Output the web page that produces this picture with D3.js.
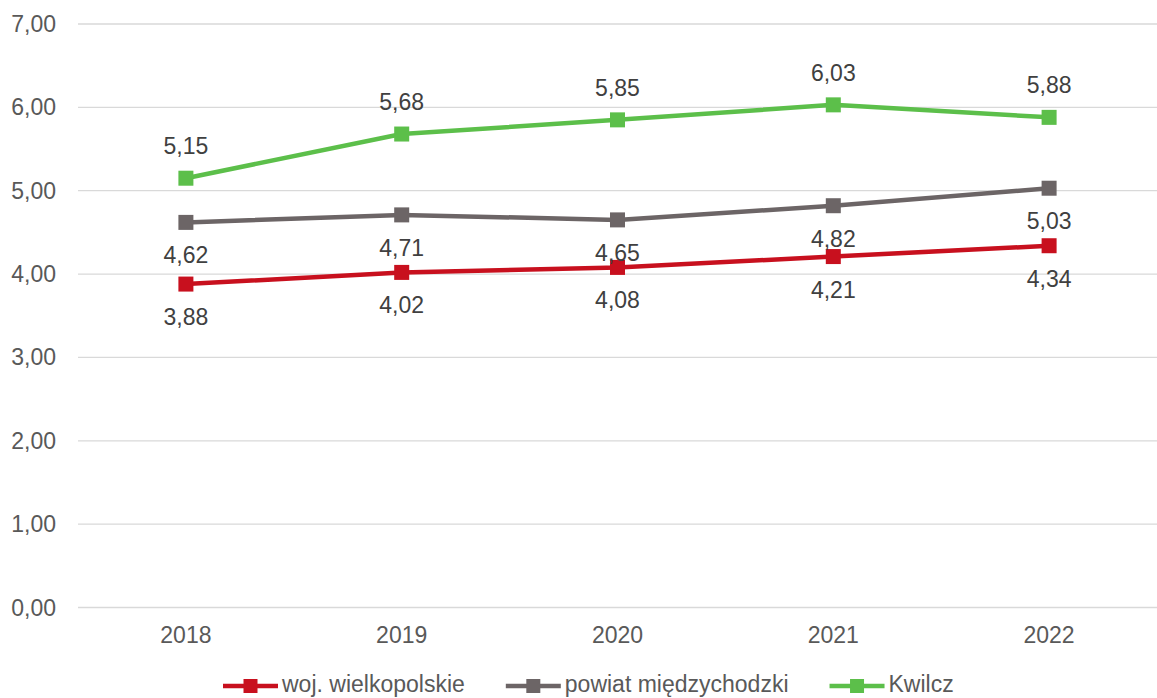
<!DOCTYPE html>
<html><head><meta charset="utf-8">
<script src="https://cdn.jsdelivr.net/npm/d3@7"></script>
<style>body{margin:0;background:#fff}svg{display:block;font-family:"Liberation Sans",Arial,sans-serif}</style>
</head><body><svg id="c" width="1157" height="698"></svg>
<script>
const years = ["2018","2019","2020","2021","2022"];
const seriesNames = ["woj. wielkopolskie","powiat międzychodzki","Kwilcz"];
const woj = [3.88,4.02,4.08,4.21,4.34];
const powiat = [4.62,4.71,4.65,4.82,5.03];
const kwilcz = [5.15,5.68,5.85,6.03,5.88];
const yTicks = [0,1,2,3,4,5,6,7];
const colors = ["#c8101e","#6c6566","#5cbf4a"];
const labelPos = [["below","below","below","below","below"],["below","below","below","below","below"],["above","above","above","above","above"]];

const svg = d3.select("#c");
const x = d3.scaleBand().domain(years).range([78,1157]);
const y = d3.scaleLinear().domain([0,7]).range([607.5,24]);
const fmt = v => v.toFixed(2).replace(".",",");

svg.append("g").selectAll("line").data(yTicks).join("line")
  .attr("x1",78).attr("x2",1157).attr("y1",d=>y(d)).attr("y2",d=>y(d))
  .attr("stroke","#d9d9d9").attr("stroke-width",1.3);
svg.append("g").selectAll("text").data(yTicks).join("text")
  .attr("x",56).attr("y",d=>y(d)+8).attr("text-anchor","end")
  .attr("font-size",23).attr("fill","#595959").text(fmt);
svg.append("g").selectAll("text").data(years).join("text")
  .attr("x",d=>x(d)+x.bandwidth()/2).attr("y",643).attr("text-anchor","middle")
  .attr("font-size",23).attr("fill","#595959").text(d=>d);

const data = [woj,powiat,kwilcz];
const line = d3.line().x((d,i)=>x(years[i])+x.bandwidth()/2).y(d=>y(d));
data.forEach((s,k)=>{
  const g = svg.append("g");
  g.append("path").datum(s).attr("d",line).attr("fill","none")
    .attr("stroke",colors[k]).attr("stroke-width",4.5).attr("stroke-linejoin","round");
  g.selectAll("rect").data(s).join("rect")
    .attr("x",(d,i)=>x(years[i])+x.bandwidth()/2-7.5).attr("y",d=>y(d)-7.5)
    .attr("width",15).attr("height",15).attr("fill",colors[k]);
  g.selectAll("text").data(s).join("text")
    .attr("x",(d,i)=>x(years[i])+x.bandwidth()/2)
    .attr("y",(d,i)=>labelPos[k][i]==="above"? y(d)-24 : y(d)+41)
    .attr("text-anchor","middle").attr("font-size",23).attr("fill","#404040").text(fmt);
});

// legend
const lg = svg.append("g");
let cx = 223;
seriesNames.forEach((n,k)=>{
  lg.append("line").attr("x1",cx).attr("x2",cx+55).attr("y1",686).attr("y2",686)
    .attr("stroke",colors[k]).attr("stroke-width",4.5);
  lg.append("rect").attr("x",cx+27.5-7).attr("y",686-7).attr("width",14).attr("height",14).attr("fill",colors[k]);
  const t = lg.append("text").attr("x",cx+59).attr("y",692).attr("font-size",23).attr("fill","#595959").text(n);
  cx += 59 + t.node().getComputedTextLength() + 41;
});
</script></body></html>
